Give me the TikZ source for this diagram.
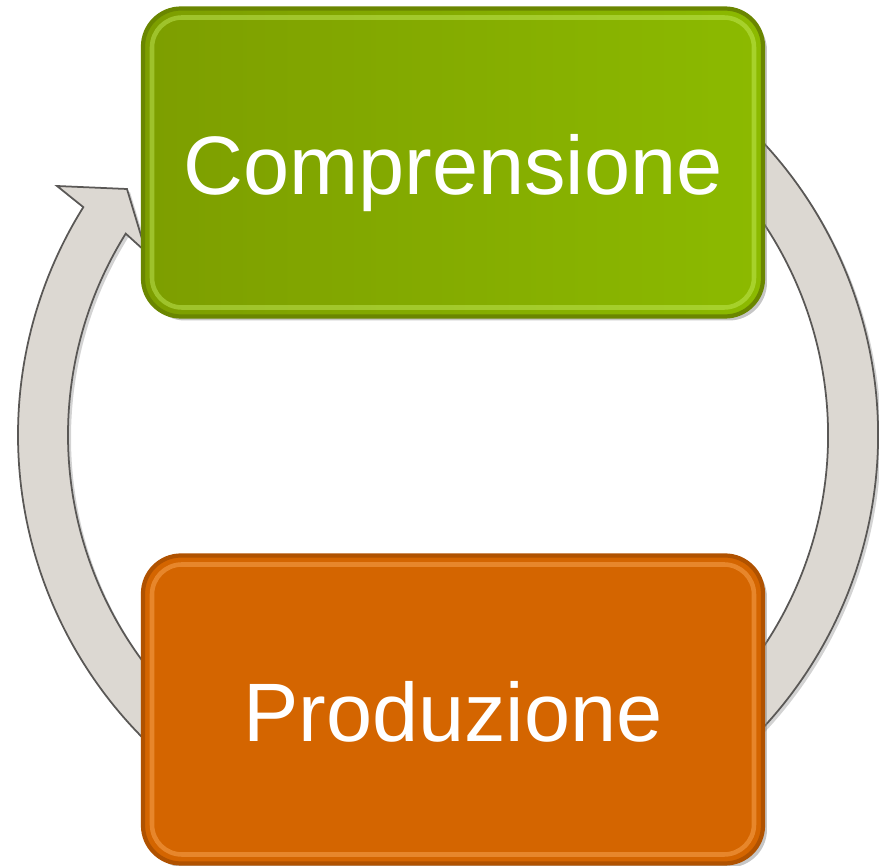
\documentclass[tikz,border=0pt]{standalone}
\usepackage{fontspec}
\setmainfont{Liberation Sans}
\usetikzlibrary{calc,shadows}

\definecolor{ringgray}{HTML}{DCD8D2}
\definecolor{ringedge}{HTML}{5A5856}
\definecolor{compgreen}{HTML}{7D9E00}
\definecolor{compgreenhi}{HTML}{8CBA00}
\definecolor{compgreenrim}{HTML}{6A8600}
\definecolor{compgreenlt}{HTML}{C8F060}
\definecolor{prodorange}{HTML}{D46500}
\definecolor{prodorangerim}{HTML}{B05200}
\definecolor{prodorangelt}{HTML}{FFB060}

\tikzset{
  ringpart/.style={fill=ringgray, draw=ringedge, line width=0.5pt,
    drop shadow={opacity=0.35, shadow xshift=0.03, shadow yshift=-0.03}},
  stagebox/.style={rounded corners=0.38cm, minimum width=6.2cm,
    minimum height=3.08cm, line width=1.2pt, text=white,
    font=\fontsize{23.6}{28}\selectfont, text height=0.64cm, text depth=0cm,
    drop shadow={opacity=0.45, shadow xshift=0.04, shadow yshift=-0.04}},
  rimlight/.style={path picture={%
      \draw[#1, line width=1.3pt, rounded corners=0.3cm, opacity=0.45]
        ([shift={(0.09,-0.09)}]path picture bounding box.north west)
        rectangle ([shift={(-0.09,0.09)}]path picture bounding box.south east);}}
}

\begin{document}
\begin{tikzpicture}
  \useasboundingbox (0,0) rectangle (8.79,-8.66);
  \coordinate (C) at (4.48,-4.35);
  % left arc ending in the arrowhead
  \path[ringpart] ($(C)+(250:4.3)$) arc[start angle=250, end angle=148, radius=4.3]
    -- (0.57,-1.86) -- (1.27,-1.89) -- (1.46,-2.52)
    -- ($(C)+(148:3.8)$) arc[start angle=148, end angle=250, radius=3.8] -- cycle;
  % right arc
  \path[ringpart] ($(C)+(-70:4.3)$) arc[start angle=-70, end angle=65, radius=4.3]
    -- ($(C)+(65:3.8)$) arc[start angle=65, end angle=-70, radius=3.8] -- cycle;
  % the two stages
  \node[stagebox, left color=compgreen, right color=compgreenhi,
    draw=compgreenrim, rimlight=compgreenlt] (comp) at (4.53,-1.625) {Comprensione};
  \node[stagebox, fill=prodorange, draw=prodorangerim,
    rimlight=prodorangelt] (prod) at (4.53,-7.095) {Produzione};
\end{tikzpicture}
\end{document}
